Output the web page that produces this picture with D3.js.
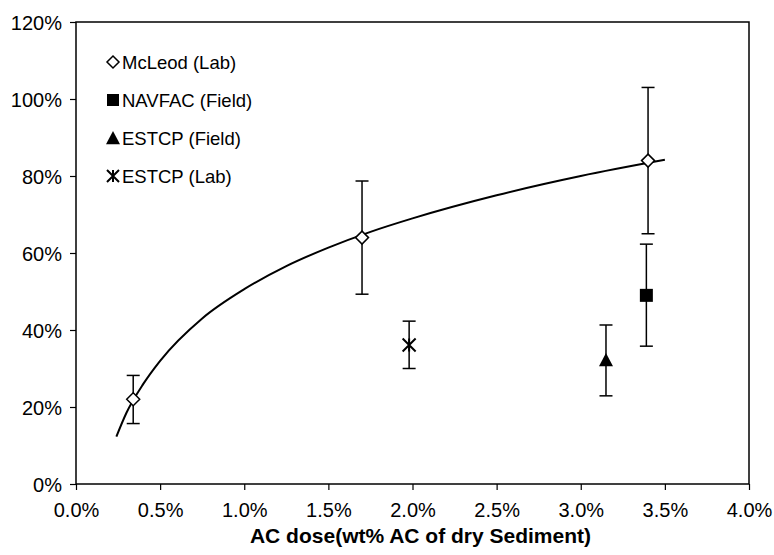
<!DOCTYPE html>
<html><head><meta charset="utf-8">
<script src="https://cdn.jsdelivr.net/npm/d3@7"></script>
<style>body{margin:0;background:#fff}svg{display:block}text{font-family:"Liberation Sans",Arial,sans-serif;fill:#000}</style>
</head><body>
<svg id="c" width="774" height="555"></svg>
<script>
// ---- data (percent units) ----
const seriesNames = ["McLeod (Lab)", "NAVFAC (Field)", "ESTCP (Field)", "ESTCP (Lab)"];
const mcleodX = [0.34, 1.70, 3.40];
const mcleodY = [22, 64, 84];
const mcleodLo = [15.7, 49.3, 65];
const mcleodHi = [28.2, 78.7, 103];
const navfacX = [3.39];
const navfacY = [49];
const navfacLo = [35.8];
const navfacHi = [62.3];
const estcpFieldX = [3.15];
const estcpFieldY = [32.2];
const estcpFieldLo = [22.9];
const estcpFieldHi = [41.3];
const estcpLabX = [1.98];
const estcpLabY = [36.1];
const estcpLabLo = [30.0];
const estcpLabHi = [42.3];
// trend curve
const curveX = [0.24, 0.30, 0.40, 0.50, 0.75, 1.00, 1.25, 1.50, 1.75, 2.00, 2.50, 3.00, 3.50];
const curveY = [12.3, 18.5, 26.0, 32.0, 43.0, 50.6, 56.6, 61.4, 65.5, 69.0, 75.0, 80.0, 84.2];
const xTicks = [0, 0.5, 1.0, 1.5, 2.0, 2.5, 3.0, 3.5, 4.0];
const yTicks = [0, 20, 40, 60, 80, 100, 120];
const xTitle = "AC dose(wt% AC of dry Sediment)";

const svg = d3.select("#c");
const m = {l: 76, r: 749, t: 22, b: 484};
const x = d3.scaleLinear().domain([0, 4]).range([m.l, m.r]);
const y = d3.scaleLinear().domain([0, 120]).range([m.b, m.t]);

// frame
svg.append("rect").attr("x", m.l).attr("y", m.t).attr("width", m.r - m.l).attr("height", m.b - m.t)
  .attr("fill", "none").attr("stroke", "#000").attr("stroke-width", 1.5);

// axes
const xa = svg.append("g").attr("transform", `translate(0,${m.b})`)
  .call(d3.axisBottom(x).tickValues(xTicks).tickSize(6).tickFormat(d => d.toFixed(1) + "%"));
const ya = svg.append("g").attr("transform", `translate(${m.l},0)`)
  .call(d3.axisLeft(y).tickValues(yTicks).tickSize(6).tickFormat(d => d + "%"));
[xa, ya].forEach(g => {
  g.select(".domain").remove();
  g.selectAll("line").attr("stroke", "#000").attr("stroke-width", 1.2);
  g.selectAll("text").attr("font-size", 20).attr("font-family", "Liberation Sans, Arial, sans-serif");
});
xa.selectAll("text").attr("y", 0).attr("dy", 0).attr("transform", "translate(0,518)").attr("transform", null).attr("y", 33);
ya.selectAll("text").attr("x", -14).attr("dy", "0.35em");

svg.append("text").attr("x", (m.l + m.r) / 2 + 8).attr("y", 543).attr("text-anchor", "middle")
  .attr("font-size", 21).attr("font-weight", "bold").text(xTitle);

// trend curve
const line = d3.line().x((d, i) => x(curveX[i])).y((d, i) => y(curveY[i])).curve(d3.curveMonotoneX);
svg.append("path").datum(curveX).attr("d", line).attr("fill", "none").attr("stroke", "#000").attr("stroke-width", 2);

// error bars
function errBars(xs, lo, hi) {
  const g = svg.append("g").attr("stroke", "#000").attr("stroke-width", 1.5);
  xs.forEach((xv, i) => {
    g.append("line").attr("x1", x(xv)).attr("x2", x(xv)).attr("y1", y(lo[i])).attr("y2", y(hi[i]));
    [lo[i], hi[i]].forEach(v => g.append("line").attr("x1", x(xv) - 6.5).attr("x2", x(xv) + 6.5).attr("y1", y(v)).attr("y2", y(v)));
  });
}
errBars(mcleodX, mcleodLo, mcleodHi);
errBars(navfacX, navfacLo, navfacHi);
errBars(estcpFieldX, estcpFieldLo, estcpFieldHi);
errBars(estcpLabX, estcpLabLo, estcpLabHi);

// marker painters
function diamond(g, cx, cy, s) {
  g.append("path").attr("d", `M${cx},${cy - s}L${cx + s},${cy}L${cx},${cy + s}L${cx - s},${cy}Z`)
    .attr("fill", "#fff").attr("stroke", "#000").attr("stroke-width", 1.5);
}
function square(g, cx, cy, s) {
  g.append("rect").attr("x", cx - s).attr("y", cy - s).attr("width", 2 * s).attr("height", 2 * s).attr("fill", "#000");
}
function triangle(g, cx, cy, s) {
  g.append("path").attr("d", `M${cx},${cy - s}L${cx + s},${cy + s * 0.9}L${cx - s},${cy + s * 0.9}Z`).attr("fill", "#000");
}
function star(g, cx, cy, s) {
  g.append("path").attr("d", `M${cx - s},${cy - s}L${cx + s},${cy + s}M${cx + s},${cy - s}L${cx - s},${cy + s}M${cx},${cy - s}L${cx},${cy + s}`)
    .attr("stroke", "#000").attr("stroke-width", 2).attr("fill", "none");
}
const mk = svg.append("g");
mcleodX.forEach((v, i) => diamond(mk, x(v), y(mcleodY[i]), 6.5));
navfacX.forEach((v, i) => square(mk, x(v), y(navfacY[i]), 6.5));
estcpFieldX.forEach((v, i) => triangle(mk, x(v), y(estcpFieldY[i]), 7));
estcpLabX.forEach((v, i) => star(mk, x(v), y(estcpLabY[i]), 6.5));

// legend
const painters = [diamond, square, triangle, star];
const sizes = [6, 6, 7, 6];
const lg = svg.append("g");
seriesNames.forEach((n, i) => {
  const yy = 62 + i * 38;
  painters[i](lg, 113, yy, sizes[i]);
  lg.append("text").attr("x", 122).attr("y", yy).attr("dy", "0.36em").attr("font-size", 18.5).text(n);
});
</script>
</body></html>
